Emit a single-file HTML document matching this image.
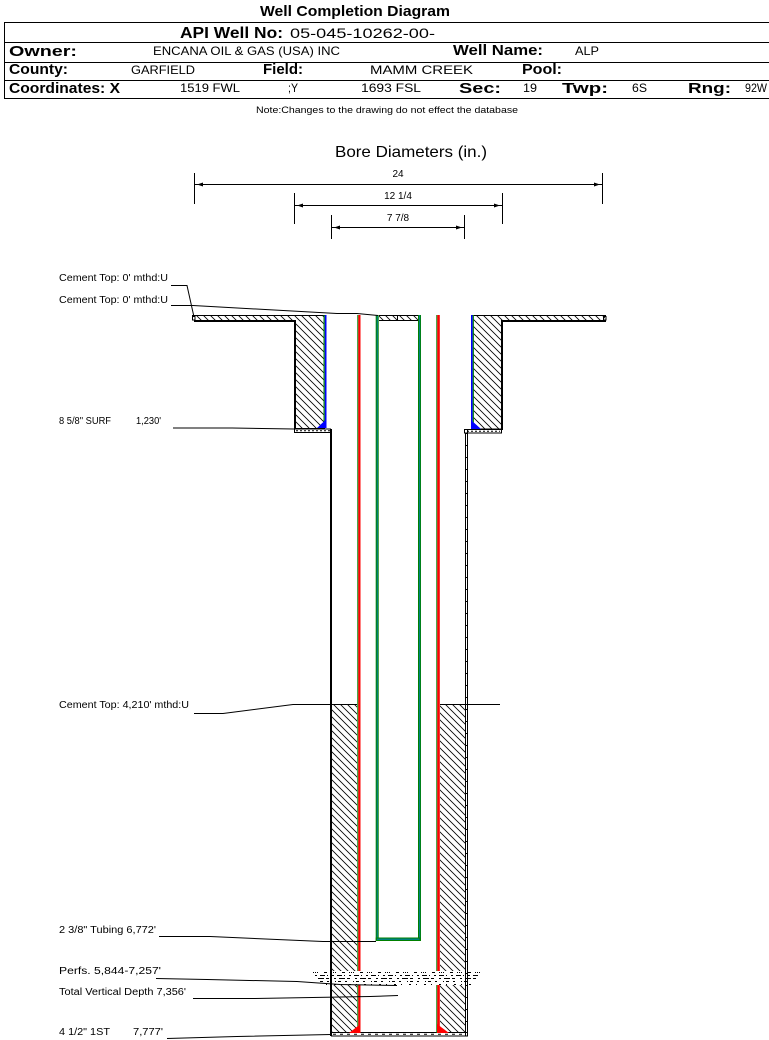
<!DOCTYPE html>
<html><head><meta charset="utf-8"><style>
html,body{margin:0;padding:0;background:#fff;}
svg{display:block;}
text{font-family:"Liberation Sans",Arial,sans-serif;fill:#000;}
.b{font-weight:bold;font-size:15px;}
.v{font-size:12px;}
.l{font-size:10px;}
</style></head><body>
<svg width="769" height="1040" viewBox="0 0 769 1040" xmlns="http://www.w3.org/2000/svg">
<defs>
<pattern id="h" patternUnits="userSpaceOnUse" width="7" height="7">
<path d="M-1,-1 L8,8 M-1,6 L1,8 M6,-1 L8,1" stroke="#000" stroke-width="0.8" fill="none"/>
</pattern>
</defs>

<!-- Header -->
<text x="260" y="16" font-size="15" font-weight="bold" textLength="190" lengthAdjust="spacingAndGlyphs">Well Completion Diagram</text>
<g stroke="#000" stroke-width="1">
<line x1="4" y1="22.5" x2="769" y2="22.5"/>
<line x1="4" y1="42.5" x2="769" y2="42.5"/>
<line x1="4" y1="62.5" x2="769" y2="62.5"/>
<line x1="4" y1="80.5" x2="769" y2="80.5"/>
<line x1="4" y1="98.5" x2="769" y2="98.5"/>
<line x1="4.5" y1="22" x2="4.5" y2="99"/>
</g>
<text x="180" y="38" font-size="16" font-weight="bold" textLength="103" lengthAdjust="spacingAndGlyphs">API Well No:</text>
<text x="290" y="38" font-size="14" textLength="145" lengthAdjust="spacingAndGlyphs">05-045-10262-00-</text>

<text class="b" x="9" y="56" textLength="68" lengthAdjust="spacingAndGlyphs">Owner:</text>
<text class="v" x="153" y="55" textLength="187" lengthAdjust="spacingAndGlyphs">ENCANA OIL &amp; GAS (USA) INC</text>
<text class="b" x="453" y="55" textLength="90" lengthAdjust="spacingAndGlyphs">Well Name:</text>
<text class="v" x="575" y="55" textLength="24" lengthAdjust="spacingAndGlyphs">ALP</text>

<text class="b" x="9" y="74" textLength="59" lengthAdjust="spacingAndGlyphs">County:</text>
<text class="v" x="131" y="74" textLength="64" lengthAdjust="spacingAndGlyphs">GARFIELD</text>
<text class="b" x="263" y="74" textLength="40" lengthAdjust="spacingAndGlyphs">Field:</text>
<text class="v" x="370" y="74" textLength="103" lengthAdjust="spacingAndGlyphs">MAMM CREEK</text>
<text class="b" x="522" y="74" textLength="40" lengthAdjust="spacingAndGlyphs">Pool:</text>

<text class="b" x="9" y="93" textLength="111" lengthAdjust="spacingAndGlyphs">Coordinates: X</text>
<text class="v" x="180" y="92" textLength="60" lengthAdjust="spacingAndGlyphs">1519 FWL</text>
<text class="v" x="288" y="92" textLength="10" lengthAdjust="spacingAndGlyphs">;Y</text>
<text class="v" x="361" y="92" textLength="60" lengthAdjust="spacingAndGlyphs">1693 FSL</text>
<text class="b" x="459" y="93" textLength="42" lengthAdjust="spacingAndGlyphs">Sec:</text>
<text class="v" x="523" y="92" textLength="14" lengthAdjust="spacingAndGlyphs">19</text>
<text class="b" x="562" y="93" textLength="46" lengthAdjust="spacingAndGlyphs">Twp:</text>
<text class="v" x="632" y="92" textLength="15" lengthAdjust="spacingAndGlyphs">6S</text>
<text class="b" x="688" y="93" textLength="43" lengthAdjust="spacingAndGlyphs">Rng:</text>
<text class="v" x="745" y="92" font-size="11" textLength="22" lengthAdjust="spacingAndGlyphs">92W</text>

<text x="256" y="113" font-size="9" textLength="262" lengthAdjust="spacingAndGlyphs">Note:Changes to the drawing do not effect the database</text>

<!-- Bore diameters -->
<text x="335" y="157" font-size="16" textLength="152" lengthAdjust="spacingAndGlyphs">Bore Diameters (in.)</text>
<g stroke="#000" stroke-width="1" fill="none">
<line x1="194.5" y1="173" x2="194.5" y2="204"/>
<line x1="602.5" y1="173" x2="602.5" y2="204"/>
<line x1="195" y1="184.5" x2="602" y2="184.5"/>
<line x1="294.5" y1="193" x2="294.5" y2="224"/>
<line x1="502.5" y1="193" x2="502.5" y2="224"/>
<line x1="295" y1="205.5" x2="502" y2="205.5"/>
<line x1="331.5" y1="215" x2="331.5" y2="239"/>
<line x1="464.5" y1="215" x2="464.5" y2="239"/>
<line x1="332" y1="227.5" x2="464" y2="227.5"/>
</g>
<g fill="#000">
<polygon points="197,184.5 203,182.5 203,186.5"/>
<polygon points="600,184.5 594,182.5 594,186.5"/>
<polygon points="297,205.5 303,203.5 303,207.5"/>
<polygon points="500,205.5 494,203.5 494,207.5"/>
<polygon points="334,227.5 340,225.5 340,229.5"/>
<polygon points="462,227.5 456,225.5 456,229.5"/>
</g>
<text class="l" x="398" y="177" text-anchor="middle">24</text>
<text class="l" x="398" y="199" text-anchor="middle">12 1/4</text>
<text class="l" x="398" y="221" text-anchor="middle">7 7/8</text>

<!-- Labels -->
<text class="l" x="59" y="281" textLength="109" lengthAdjust="spacingAndGlyphs">Cement Top: 0' mthd:U</text>
<text class="l" x="59" y="303" textLength="109" lengthAdjust="spacingAndGlyphs">Cement Top: 0' mthd:U</text>
<text class="l" x="59" y="424" textLength="52" lengthAdjust="spacingAndGlyphs">8 5/8" SURF</text>
<text class="l" x="136" y="424" textLength="25" lengthAdjust="spacingAndGlyphs">1,230'</text>
<text class="l" x="59" y="708" textLength="130" lengthAdjust="spacingAndGlyphs">Cement Top: 4,210' mthd:U</text>
<text class="l" x="59" y="933" textLength="97" lengthAdjust="spacingAndGlyphs">2 3/8" Tubing 6,772'</text>
<text class="l" x="59" y="974" textLength="102" lengthAdjust="spacingAndGlyphs">Perfs. 5,844-7,257'</text>
<text class="l" x="59" y="995" textLength="127" lengthAdjust="spacingAndGlyphs">Total Vertical Depth 7,356'</text>
<text class="l" x="59" y="1035" textLength="51" lengthAdjust="spacingAndGlyphs">4 1/2" 1ST</text>
<text class="l" x="133" y="1035" textLength="30" lengthAdjust="spacingAndGlyphs">7,777'</text>

<!-- Hatched areas -->
<g fill="url(#h)">
<rect x="194" y="315" width="130" height="6"/>
<rect x="295" y="321" width="29" height="107"/>
<rect x="473" y="315" width="132" height="6"/>
<rect x="473" y="321" width="29" height="108"/>
<rect x="379" y="315" width="39" height="6"/>
<rect x="332" y="704" width="25" height="267"/>
<rect x="332" y="985" width="25" height="48"/>
<rect x="440" y="704" width="25" height="267"/>
<rect x="440" y="985" width="25" height="48"/>
</g>

<!-- Surface structure lines -->
<g stroke="#000" fill="none">
<line x1="192" y1="315.5" x2="325" y2="315.5" stroke-width="1"/>
<line x1="194" y1="321" x2="296" y2="321" stroke-width="2"/>
<line x1="295" y1="320" x2="295" y2="429" stroke-width="2"/>
<line x1="294" y1="428.5" x2="325" y2="428.5" stroke-width="1"/>
<rect x="192.5" y="316.5" width="2.5" height="3.5" stroke-width="1"/>
<rect x="294.5" y="429" width="36" height="3.5" stroke-width="1"/>
<line x1="296" y1="430.7" x2="330" y2="430.7" stroke-width="1" stroke-dasharray="2 2"/>

<line x1="472" y1="315.5" x2="606" y2="315.5" stroke-width="1"/>
<line x1="501" y1="321" x2="606" y2="321" stroke-width="2"/>
<line x1="502" y1="320" x2="502" y2="430" stroke-width="2"/>
<line x1="472" y1="429" x2="502" y2="429" stroke-width="1"/>
<rect x="603.5" y="316.5" width="2.5" height="3.5" stroke-width="1"/>
<rect x="464.5" y="429.5" width="37" height="3.5" stroke-width="1"/>
<line x1="467" y1="431.2" x2="500" y2="431.2" stroke-width="1" stroke-dasharray="2 2"/>

<line x1="379" y1="315.5" x2="418" y2="315.5" stroke-width="1"/>
<line x1="379" y1="320.5" x2="418" y2="320.5" stroke-width="1"/>
<line x1="397.5" y1="315" x2="397.5" y2="321" stroke-width="1"/>

<!-- Hole walls -->
<line x1="331" y1="429" x2="331" y2="1036" stroke-width="2"/>
<line x1="465.5" y1="433" x2="465.5" y2="1036" stroke-width="1"/>
<line x1="467.5" y1="429" x2="467.5" y2="1036" stroke-width="1"/>
<line x1="465" y1="443" x2="468" y2="443" stroke-width="1" stroke-dasharray="1 11"/>
<line x1="466.5" y1="433" x2="466.5" y2="1033" stroke-width="2" stroke-dasharray="1 11"/>
<rect x="331.5" y="1032.5" width="136" height="3.5" stroke-width="1"/>
<line x1="333" y1="1034.3" x2="465" y2="1034.3" stroke-width="1" stroke-dasharray="3 4"/>

<line x1="332" y1="704.5" x2="357" y2="704.5" stroke-width="1"/>
<line x1="440" y1="704.5" x2="500" y2="704.5" stroke-width="1"/>
</g>

<!-- Casing strings -->
<rect x="323.5" y="315" width="1.3" height="113" fill="#008000"/>
<rect x="324.8" y="315" width="1.7" height="113" fill="#0000ff"/>
<polygon points="317,428 326.5,428 326.5,419" fill="#0000ff"/>
<rect x="471" y="315" width="1.7" height="114" fill="#0000ff"/>
<rect x="472.7" y="315" width="1.2" height="114" fill="#008000"/>
<polygon points="471,429 481,429 471,420" fill="#0000ff"/>

<g>
<rect x="357.3" y="315" width="1" height="656" fill="#008000"/>
<rect x="358.3" y="315" width="2.2" height="656" fill="#ff0000"/>
<rect x="357.3" y="985" width="1" height="48" fill="#008000"/>
<rect x="358.3" y="985" width="2.2" height="48" fill="#ff0000"/>
<rect x="436.3" y="315" width="1" height="656" fill="#008000"/>
<rect x="437.3" y="315" width="2.5" height="656" fill="#ff0000"/>
<rect x="436.3" y="985" width="1" height="48" fill="#008000"/>
<rect x="437.3" y="985" width="2.5" height="48" fill="#ff0000"/>
<polygon points="349,1033 360.5,1033 360.5,1024" fill="#ff0000"/>
<polygon points="437,1024 437,1033 449,1033" fill="#ff0000"/>
</g>

<!-- Tubing -->
<g>
<rect x="375.7" y="315" width="3" height="626" fill="#008000"/>
<rect x="376.7" y="315" width="1.2" height="625" fill="#008080"/>
<rect x="418" y="315" width="3" height="626" fill="#008000"/>
<rect x="419" y="315" width="1.2" height="625" fill="#008080"/>
<rect x="375.7" y="937.5" width="45.3" height="3.5" fill="#008000"/>
<rect x="377" y="938.5" width="42.5" height="1.5" fill="#008080"/>
</g>

<!-- Perfs -->
<g stroke="#000" stroke-width="1" fill="none">
<line x1="313" y1="972.5" x2="480" y2="972.5" stroke-dasharray="1 1 1 1 1 6 3 4"/>
<line x1="315" y1="975.5" x2="480" y2="975.5" stroke-dasharray="2 3 5 2 1 4"/>
<line x1="318" y1="978.5" x2="478" y2="978.5" stroke-dasharray="6 2 3 5 2 3"/>
<line x1="320" y1="981.5" x2="470" y2="981.5" stroke-dasharray="3 4 2 6 1 2"/>
<line x1="326" y1="984.5" x2="476" y2="984.5" stroke-dasharray="1 7 2 5"/>
</g>

<!-- Leader lines -->
<g stroke="#000" stroke-width="1" fill="none">
<polyline points="171,285.5 187,285.5 194,317"/>
<polyline points="171,305.5 193,305.5 337,313.5 357,313.5 378,315.5"/>
<polyline points="173,428 232,428 294,429"/>
<polyline points="194,713.5 223,713.5 293,704.5 332,704.5"/>
<polyline points="159,936.5 210,936.5 323,941.5 376,941.5"/>
<polyline points="156,978.5 207,979.5 297,981.5 340,984.5 397,985.5"/>
<polyline points="193,998.5 255,998.5 370,996.5 398,995.5"/>
<polyline points="167,1038.5 237,1036.5 331,1034.5"/>
</g>
</svg>
</body></html>
